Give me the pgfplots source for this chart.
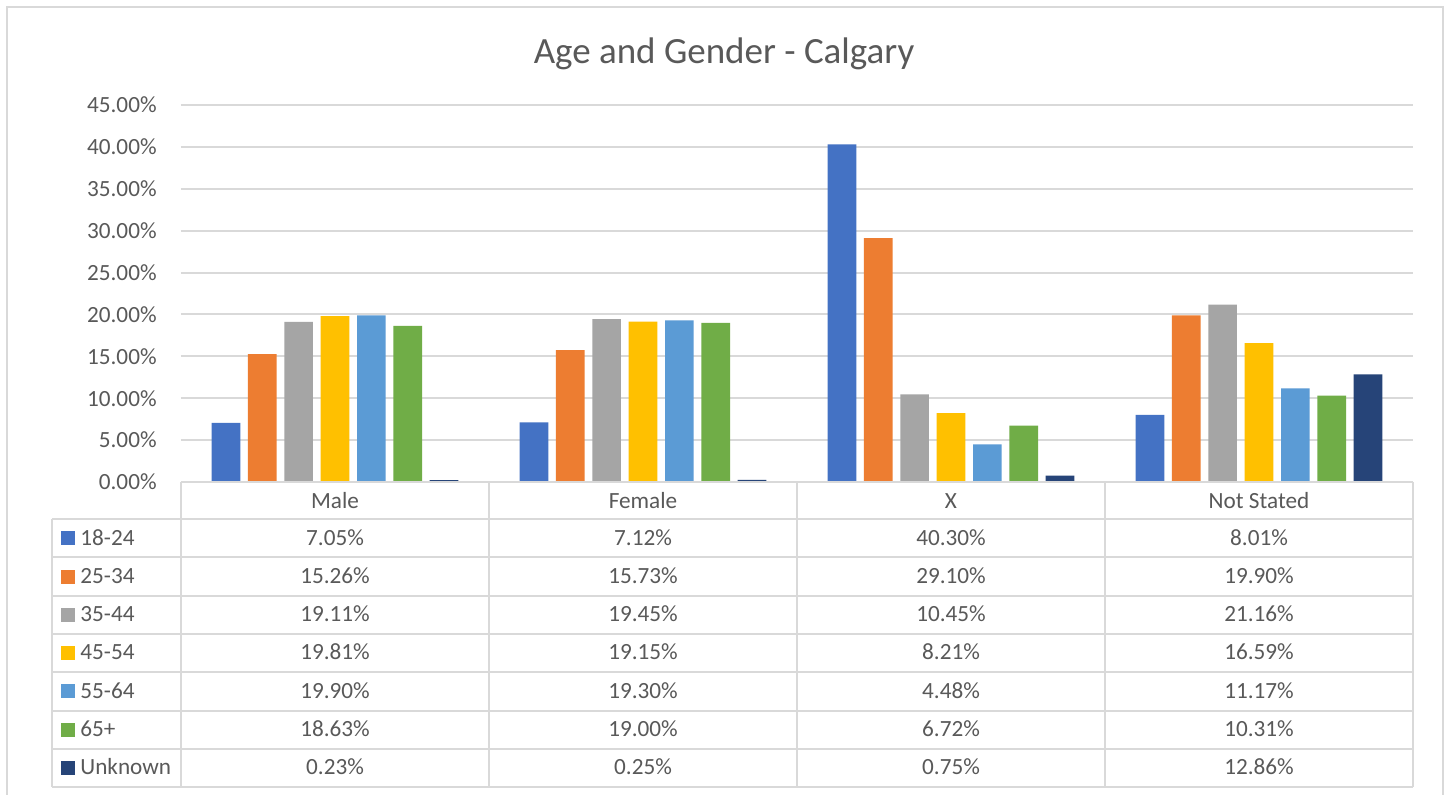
\documentclass[border=0pt]{standalone}
\usepackage{fontspec}
\setmainfont{Carlito}
\usepackage{pgfplots}
\usepackage{pgfplotstable}
\pgfplotsset{compat=1.18}
\definecolor{c1}{HTML}{4472C4}
\definecolor{c2}{HTML}{ED7D31}
\definecolor{c3}{HTML}{A5A5A5}
\definecolor{c4}{HTML}{FFC000}
\definecolor{c5}{HTML}{5B9BD5}
\definecolor{c6}{HTML}{70AD47}
\definecolor{c7}{HTML}{264478}
\definecolor{gridgray}{HTML}{D9D9D9}
\definecolor{textgray}{HTML}{595959}

\pgfplotstableread{
x a b c d e f g
0 7.05 15.26 19.11 19.81 19.90 18.63 0.23
1 7.12 15.73 19.45 19.15 19.30 19.00 0.25
2 40.30 29.10 10.45 8.21 4.48 6.72 0.75
3 8.01 19.90 21.16 16.59 11.17 10.31 12.86
}\datatable

\begin{document}
\begin{tikzpicture}
\path[use as bounding box] (0pt,0pt) rectangle (724pt,-397pt);
\begin{scope}[x=0.5pt,y=-0.5pt]
\fill[white] (0,0) rectangle (1448,794);
\draw[gridgray, line width=0.8pt] (7,7) rectangle (1443,820);
\node[anchor=base, inner sep=0pt, text=textgray, font=\fontsize{18.5}{22}\selectfont] at (724,63) {Age and Gender - Calgary};
\end{scope}

\begin{axis}[
  at={(90.5pt,-241pt)}, anchor=south west,
  width=616pt, height=188.5pt, scale only axis,
  xmin=-0.5, xmax=3.5, ymin=0, ymax=45,
  axis line style={draw=none},
  ymajorgrids, grid style={draw=gridgray, line width=1pt},
  xtick=\empty,
  ytick={0,5,10,15,20,25,30,35,40,45},
  yticklabels={0.00\%,5.00\%,10.00\%,15.00\%,20.00\%,25.00\%,30.00\%,35.00\%,40.00\%,45.00\%},
  major tick length=0pt,
  yticklabel style={font=\fontsize{11.6}{13}\selectfont, text=textgray, anchor=east, inner sep=0pt, xshift=-12pt},
  ybar, bar width=0.093,
  clip=false,
]
\addplot[fill=c1, draw=none, bar shift=-0.354] table[x=x,y=a] {\datatable};
\addplot[fill=c2, draw=none, bar shift=-0.236] table[x=x,y=b] {\datatable};
\addplot[fill=c3, draw=none, bar shift=-0.118] table[x=x,y=c] {\datatable};
\addplot[fill=c4, draw=none, bar shift=0] table[x=x,y=d] {\datatable};
\addplot[fill=c5, draw=none, bar shift=0.118] table[x=x,y=e] {\datatable};
\addplot[fill=c6, draw=none, bar shift=0.236] table[x=x,y=f] {\datatable};
\addplot[fill=c7, draw=none, bar shift=0.354] table[x=x,y=g] {\datatable};
\end{axis}

\begin{scope}[x=0.5pt,y=-0.5pt, every node/.style={inner sep=0pt, text=textgray, font=\fontsize{11.6}{13}\selectfont}]
% table grid
\draw[gridgray, line width=1pt] (181,482) -- (1413,482);
\foreach \k in {0,...,7}{
  \draw[gridgray, line width=1pt] (52,{519+38.3*\k}) -- (1413,{519+38.3*\k});
}
\draw[gridgray, line width=1pt] (52,519) -- (52,787);
\foreach \xx in {181,489,797,1105,1413}{
  \draw[gridgray, line width=1pt] (\xx,482) -- (\xx,787);
}
% header
\node[anchor=base] at (335,508) {Male};
\node[anchor=base] at (643,508) {Female};
\node[anchor=base] at (951,508) {X};
\node[anchor=base] at (1259,508) {Not Stated};
% rows
\foreach \lab/\col/\va/\vb/\vc/\vd [count=\i from 0] in {
  18-24/c1/7.05/7.12/40.30/8.01,
  25-34/c2/15.26/15.73/29.10/19.90,
  35-44/c3/19.11/19.45/10.45/21.16,
  45-54/c4/19.81/19.15/8.21/16.59,
  55-64/c5/19.90/19.30/4.48/11.17,
  65+/c6/18.63/19.00/6.72/10.31,
  Unknown/c7/0.23/0.25/0.75/12.86}{
  \pgfmathsetmacro\yb{519+38.3*\i+26}
  \pgfmathsetmacro\ys{519+38.3*\i+12.2}
  \fill[\col] (61,\ys) rectangle ++(14,14);
  \node[anchor=base west] at (80,\yb) {\lab};
  \node[anchor=base] at (335,\yb) {\va\%};
  \node[anchor=base] at (643,\yb) {\vb\%};
  \node[anchor=base] at (951,\yb) {\vc\%};
  \node[anchor=base] at (1259,\yb) {\vd\%};
}
\end{scope}
\end{tikzpicture}
\end{document}
